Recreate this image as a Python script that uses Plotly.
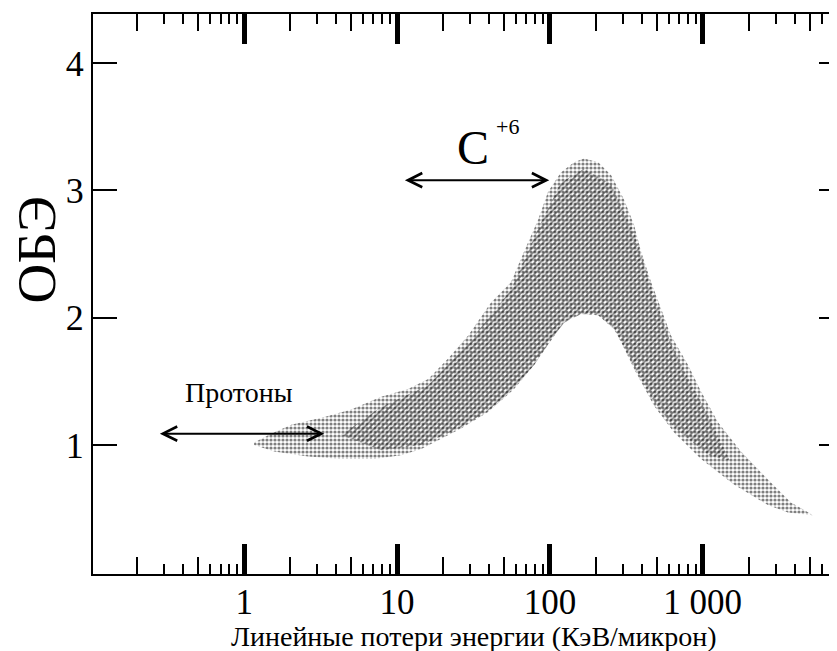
import numpy as np
import plotly.graph_objects as go

FONT = "Liberation Serif, Times New Roman, serif"

# ---- data (LET in KeV/micron, RBE) ----
upper_x = [1.16, 1.50, 2.03, 3.34, 5.01, 7.87, 11.8, 16.0, 21.6, 29.2, 41.2, 55.7, 67.8, 83.7, 97.3,
           118, 144, 167, 207, 251, 305, 355, 395, 459, 534, 620, 802, 975, 1259, 1780, 2670, 3780, 5270]
upper_y = [1.02, 1.09, 1.16, 1.22, 1.28, 1.38, 1.44, 1.52, 1.68, 1.86, 2.12, 2.28, 2.52, 2.77, 2.99,
           3.14, 3.22, 3.25, 3.22, 3.12, 2.93, 2.73, 2.52, 2.28, 2.07, 1.86, 1.63, 1.42, 1.18, 0.95, 0.73, 0.55, 0.45]
lower_x = [1.16, 1.57, 2.62, 4.31, 7.08, 10.6, 14.4, 19.4, 26.2, 39.4, 58.3, 78.8, 102, 124, 160,
           207, 263, 292, 355, 480, 649, 975, 1600, 2670, 3610, 5270]
lower_y = [1.00, 0.95, 0.91, 0.89, 0.89, 0.92, 0.97, 1.05, 1.13, 1.26, 1.44, 1.63, 1.82, 1.97, 2.03,
           2.02, 1.91, 1.81, 1.60, 1.31, 1.10, 0.89, 0.69, 0.53, 0.47, 0.45]

# denser core of the band
core_upper_x = [4.3, 7.87, 16.0, 29.2, 55.7, 83.7, 118, 167, 251, 355, 459, 620, 838, 1100, 1500]
core_upper_y = [1.08, 1.30, 1.47, 1.80, 2.22, 2.70, 3.06, 3.17, 3.05, 2.67, 2.24, 1.80, 1.48, 1.22, 0.88]
core_lower_x = [4.3, 7.87, 14.4, 26.2, 39.4, 58.3, 78.8, 102, 124, 160, 207, 263, 355, 480, 649, 904, 1100, 1500]
core_lower_y = [1.08, 0.96, 1.00, 1.14, 1.27, 1.45, 1.63, 1.83, 1.96, 2.03, 2.02, 1.92, 1.62, 1.34, 1.14, 1.00, 0.92, 0.88]

# arrows: [x_start, x_end], y
proton_arrow_x = [0.274, 3.34]
proton_arrow_y = 1.09
carbon_arrow_x = [11.0, 99.0]
carbon_arrow_y = 3.08

# ticks
x_major = [1, 10, 100, 1000]
x_major_text = ["1", "10", "100", "1 000"]
x_minor_long = [0.2, 0.5, 2, 5, 20, 50, 200, 500, 2000, 5000]
x_minor_short = [0.3, 0.4, 0.6, 0.7, 0.8, 0.9, 3, 4, 6, 7, 8, 9, 30, 40, 60, 70, 80, 90,
                 300, 400, 600, 700, 800, 900, 3000, 4000, 6000, 7000, 8000]
y_ticks = [1, 2, 3, 4]

X_RANGE = [-0.99, 3.918]
Y_RANGE = [-0.012, 4.385]

fig = go.Figure()

fig.add_trace(go.Scatter(
    x=upper_x + lower_x[::-1], y=upper_y + lower_y[::-1],
    mode="lines", fill="toself", line=dict(width=0, color="rgba(0,0,0,0)"),
    fillcolor="rgba(0,0,0,0)",
    fillpattern=dict(shape=".", size=4, solidity=0.5, fgcolor="black", bgcolor="white"),
    hoverinfo="skip", showlegend=False))

fig.add_trace(go.Scatter(
    x=core_upper_x + core_lower_x[::-1], y=core_upper_y + core_lower_y[::-1],
    mode="lines", fill="toself", line=dict(width=0, color="rgba(0,0,0,0)"),
    fillcolor="rgba(0,0,0,0)",
    fillpattern=dict(shape="/", size=4, solidity=0.4, fgcolor="black", bgcolor="rgba(0,0,0,0)"),
    hoverinfo="skip", showlegend=False))

common_x = dict(type="log", range=X_RANGE, showgrid=False, zeroline=False, fixedrange=True)

fig.update_layout(
    width=837, height=651,
    margin=dict(l=85, r=2, t=6, b=85),
    paper_bgcolor="white", plot_bgcolor="white",
    font=dict(family=FONT, color="black"),
    xaxis=dict(**common_x, side="bottom", anchor="y",
               tickmode="array", tickvals=x_major, ticktext=x_major_text,
               ticks="inside", ticklen=30, tickwidth=5, tickcolor="black",
               tickfont=dict(family=FONT, size=35, color="black"), ticklabelstandoff=-4,
               showline=True, linewidth=2, linecolor="black", mirror=True,
               minor=dict(tickmode="array", tickvals=x_minor_long, ticks="inside",
                          ticklen=17, tickwidth=1.5, tickcolor="black", showgrid=False)),
    xaxis2=dict(**common_x, overlaying="x", side="bottom", anchor="y",
                tickmode="array", tickvals=x_minor_short, ticks="inside", ticklen=10,
                tickwidth=1.5, tickcolor="black", showticklabels=False, showline=False),
    xaxis3=dict(**common_x, overlaying="x", side="top", anchor="y",
                tickmode="array", tickvals=x_major, ticks="inside", ticklen=30, tickwidth=5,
                tickcolor="black", showticklabels=False, showline=False,
                minor=dict(tickmode="array", tickvals=x_minor_long, ticks="inside",
                           ticklen=17, tickwidth=1.5, tickcolor="black", showgrid=False)),
    xaxis4=dict(**common_x, overlaying="x", side="top", anchor="y",
                tickmode="array", tickvals=x_minor_short, ticks="inside", ticklen=10,
                tickwidth=1.5, tickcolor="black", showticklabels=False, showline=False),
    yaxis=dict(range=Y_RANGE, showgrid=False, zeroline=False, fixedrange=True,
               tickmode="array", tickvals=y_ticks, ticks="inside", ticklen=24, tickwidth=2,
               tickcolor="black", tickfont=dict(family=FONT, size=36, color="black"),
               showline=True, linewidth=2, linecolor="black"),
    yaxis2=dict(range=Y_RANGE, overlaying="y", side="right", anchor="x", showgrid=False,
                zeroline=False, fixedrange=True, tickmode="array", tickvals=y_ticks,
                ticks="inside", ticklen=24, tickwidth=2, tickcolor="black",
                showticklabels=False, showline=False),
)

# invisible anchors so every overlay axis is drawn
for xa, ya in [("x2", "y"), ("x3", "y"), ("x4", "y"), ("x", "y2")]:
    fig.add_trace(go.Scatter(x=[upper_x[0]], y=[upper_y[0]], xaxis=xa, yaxis=ya, mode="markers",
                             marker=dict(opacity=0), hoverinfo="skip", showlegend=False))

lx = np.log10
arrow_common = dict(xref="x", yref="y", axref="x", ayref="y", text="", showarrow=True,
                    arrowhead=5, startarrowhead=5, arrowside="end+start",
                    arrowwidth=2, arrowsize=1.4, startarrowsize=1.4, arrowcolor="black",
                    standoff=0, startstandoff=0)
fig.add_annotation(x=lx(proton_arrow_x[1]), y=proton_arrow_y,
                   ax=lx(proton_arrow_x[0]), ay=proton_arrow_y, **arrow_common)
fig.add_annotation(x=lx(carbon_arrow_x[1]), y=carbon_arrow_y,
                   ax=lx(carbon_arrow_x[0]), ay=carbon_arrow_y, **arrow_common)

fig.add_annotation(x=lx(0.92), y=1.41, xref="x", yref="y", text="Протоны", showarrow=False,
                   xanchor="center", yanchor="middle",
                   font=dict(family=FONT, size=28, color="black"))
fig.add_annotation(x=lx(31.5), y=3.34, xref="x", yref="y", text="C", showarrow=False,
                   xanchor="center", yanchor="middle",
                   font=dict(family=FONT, size=48, color="black"))
fig.add_annotation(x=lx(52.5), y=3.50, xref="x", yref="y", text="+6", showarrow=False,
                   xanchor="center", yanchor="middle",
                   font=dict(family=FONT, size=22, color="black"))

fig.add_annotation(x=-0.075, y=0.579, xref="paper", yref="paper", text="ОБЭ", textangle=-90,
                   xanchor="center", yanchor="middle",
                   showarrow=False, font=dict(family=FONT, size=55, color="black"))
fig.add_annotation(x=0.507, y=-0.111, xref="paper", yref="paper",
                   xanchor="center", yanchor="middle",
                   text="Линейные потери энергии (КэВ/микрон)", showarrow=False,
                   font=dict(family=FONT, size=28, color="black"))

fig.write_html("out.html")
